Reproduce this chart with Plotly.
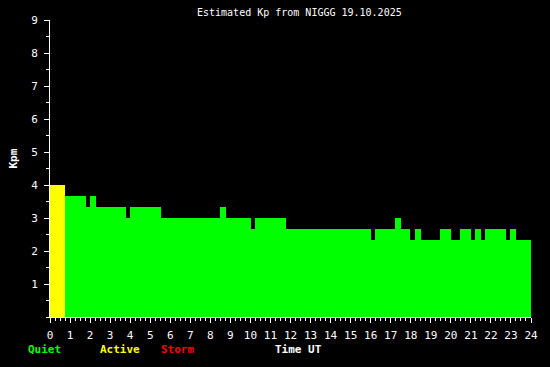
import plotly.graph_objects as go

# Segment start/end times (hours UT) and estimated Kp values
seg_start = [0.0, 0.75, 1.80, 2.00, 2.30, 3.79, 4.00, 5.54, 8.48, 8.78, 10.03, 10.23,
             11.78, 16.02, 16.22, 17.22, 17.51, 17.96, 18.21, 18.51, 19.46, 20.01,
             20.46, 21.01, 21.21, 21.51, 21.71, 22.75, 22.95, 23.25]
seg_end = seg_start[1:] + [24.0]
kp_values = [4.0, 3.67, 3.33, 3.67, 3.33, 3.0, 3.33, 3.0, 3.33, 3.0, 2.67, 3.0,
             2.67, 2.33, 2.67, 3.0, 2.67, 2.33, 2.67, 2.33, 2.67, 2.33,
             2.67, 2.33, 2.67, 2.33, 2.67, 2.33, 2.67, 2.33]

x_ticks = list(range(0, 25))
y_ticks = list(range(1, 10))
title_text = "Estimated Kp from NIGGG 19.10.2025"

QUIET = "#00ff00"
ACTIVE = "#ffff00"
STORM = "#ff0000"


def level_color(v):
    if v >= 5:
        return STORM
    if v >= 4:
        return ACTIVE
    return QUIET


centers = [(a + b) / 2 for a, b in zip(seg_start, seg_end)]
widths = [b - a for a, b in zip(seg_start, seg_end)]

fig = go.Figure(go.Bar(
    x=centers, y=kp_values, width=widths,
    marker=dict(color=[level_color(v) for v in kp_values], line=dict(width=0)),
    hoverinfo="skip",
))

mono = "DejaVu Sans Mono"
fig.update_layout(
    width=550, height=367,
    margin=dict(l=50, r=19, t=20, b=50),
    paper_bgcolor="black", plot_bgcolor="black",
    showlegend=False,
    bargap=0,
    font=dict(family=mono, size=10, color="white"),
    xaxis=dict(range=[0, 24], tickvals=x_ticks, ticktext=[str(t) for t in x_ticks],
               showgrid=False, zeroline=False, showline=True, linecolor="white", linewidth=1,
               ticks="outside", ticklen=5, tickcolor="white", tickwidth=1,
               ticklabelstandoff=3,
               tickfont=dict(family=mono, size=11, color="white"),
               minor=dict(dtick=0.25, ticks="outside", ticklen=3, tickcolor="white", showgrid=False)),
    yaxis=dict(range=[0, 9], tickvals=y_ticks, ticktext=[str(t) for t in y_ticks],
               showgrid=False, zeroline=False, showline=True, linecolor="white", linewidth=1,
               ticks="outside", ticklen=5, tickcolor="white", tickwidth=1,
               ticklabelstandoff=4,
               tickfont=dict(family=mono, size=11, color="white"),
               minor=dict(dtick=0.5, ticks="outside", ticklen=3, tickcolor="white", showgrid=False)),
)

ann = [
    dict(text=title_text, x=299, y=12.5, size=10, color="white", angle=0),
    dict(text="<b>Kpm</b>", x=12.5, y=159, size=11, color="white", angle=-90),
    dict(text="<b>Quiet</b>", x=44.5, y=349, size=11, color=QUIET, angle=0),
    dict(text="<b>Active</b>", x=119.5, y=349, size=11, color=ACTIVE, angle=0),
    dict(text="<b>Storm</b>", x=177.5, y=349, size=11, color=STORM, angle=0),
    dict(text="<b>Time UT</b>", x=298, y=349, size=11, color="white", angle=0),
]
for a in ann:
    fig.add_annotation(
        text=a["text"], xref="paper", yref="paper",
        x=(a["x"] - 50) / 481, y=(317 - a["y"]) / 297,
        xanchor="center", yanchor="middle", showarrow=False, textangle=a["angle"],
        font=dict(family=mono, size=a["size"], color=a["color"]),
    )

fig.write_html("out.html", config={"displayModeBar": False})
